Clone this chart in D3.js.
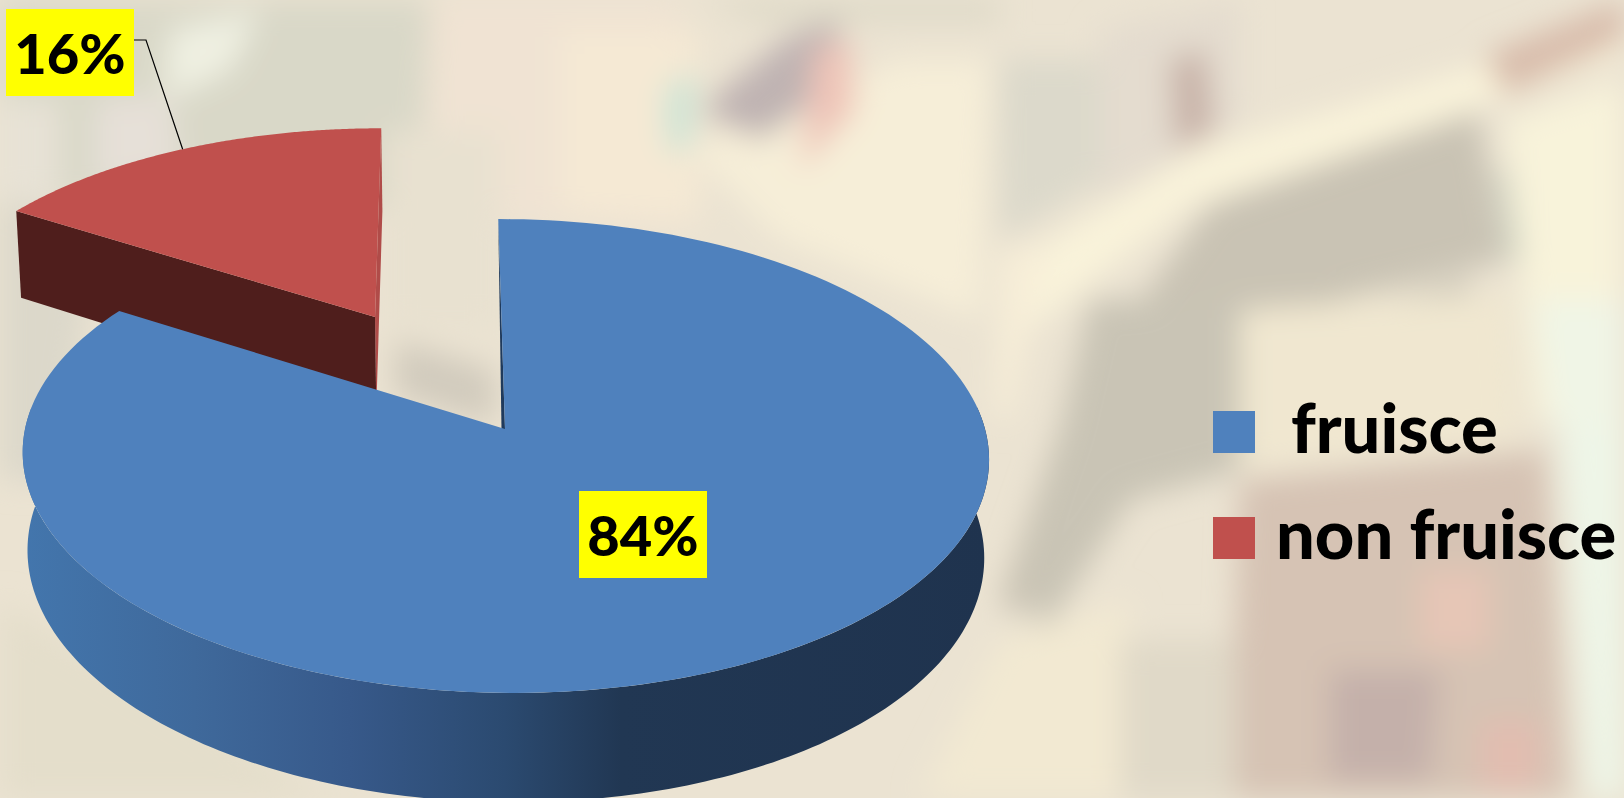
<!DOCTYPE html>
<html lang="en">
<head>
<meta charset="utf-8">
<title>fruisce / non fruisce</title>
<style>
  html, body { margin: 0; padding: 0; background: #ebe3d2; overflow: hidden; }
  svg { display: block; }
  text { font-family: Lato, "Open Sans", sans-serif; font-weight: 900; fill: #000; }
</style>
<script src="https://cdnjs.cloudflare.com/ajax/libs/d3/7.8.5/d3.min.js"></script>
</head>
<body>
<script>
// chart values
var categories = ["fruisce", "non fruisce"];
var shares = [84, 16];
var shareLabels = ["84%", "16%"];

var w = 1624, h = 798;
var svg = d3.select("body").append("svg").attr("width", w).attr("height", h);
var defs = svg.append("defs");

// washed out painting behind the chart, only soft patches
var patches = [
  ["#d9d8c8", "0,0 430,0 420,210 0,200"],
  ["#e7e2d6", "0,100 60,100 60,200 0,200"],
  ["#e6e0d8", "95,100 170,95 180,170 95,190"],
  ["#eff0e2", "170,30 260,10 230,70 165,100"],
  ["#dcd8ca", "0,200 100,220 60,480 0,480"],
  ["#f0e3d3", "430,0 680,0 690,230 430,215"],
  ["#e8e1d0", "385,130 500,130 500,330 385,330"],
  ["#d1cbbd", "395,340 495,370 495,425 395,395"],
  ["#f6eed8", "690,150 900,60 990,60 980,320 780,240"],
  ["#f5e9d4", "560,30 700,30 700,220 560,210"],
  ["#bfb3b2", "700,110 790,35 840,20 830,90 760,140"],
  ["#efc4b8", "815,50 850,40 855,110 800,170"],
  ["#c8e4d6", "665,90 695,70 690,150 668,150"],
  ["#dcd8c6", "700,0 1000,0 1000,20 760,20"],
  ["#e4dccf", "1100,30 1240,0 1240,120 1100,200"],
  ["#c8b2a8", "1170,60 1205,50 1215,130 1175,150"],
  ["#dcd9cb", "1000,60 1100,60 1100,180 1000,240"],
  ["#f9f3da", "1000,270 1200,150 1500,60 1624,10 1624,55 1470,108 1190,205 1030,330"],
  ["#d8bcab", "1485,55 1624,0 1624,40 1505,95"],
  ["#c9c3b4", "1210,205 1478,112 1505,260 1340,300 1220,380 1100,480 1020,620 1000,600 1070,400"],
  ["#c9c4b5", "1090,300 1250,300 1240,470 1130,500 1040,640 1030,560"],
  ["#bdb9ad", "1380,300 1470,280 1470,350 1380,350"],
  ["#f8f3da", "1505,120 1624,80 1624,420 1535,420"],
  ["#b5c3b5", "1498,170 1506,170 1520,260 1510,260"],
  ["#f0e7d0", "1240,310 1510,290 1520,440 1240,470"],
  ["#eef6e8", "1560,420 1624,420 1624,798 1590,798"],
  ["#f0f5e6", "1535,300 1624,300 1624,430 1555,430"],
  ["#d6c3b4", "1240,480 1545,450 1570,798 1230,798"],
  ["#c4b0aa", "1330,670 1440,670 1430,780 1330,780"],
  ["#e6c6b6", "1420,570 1490,570 1490,650 1420,650"],
  ["#e2bdb0", "1480,720 1540,720 1540,790 1480,790"],
  ["#f2e9d2", "1000,640 1130,600 1120,798 920,798"],
  ["#e0d9c8", "1120,640 1235,640 1235,798 1120,798"],
  ["#f7eed8", "1000,250 1050,240 1010,420 995,420"],
  ["#e4decb", "0,600 320,790 560,798 0,798"]
];
defs.append("filter").attr("id", "soft").attr("x", "-20%").attr("y", "-20%").attr("width", "140%").attr("height", "140%")
  .append("feGaussianBlur").attr("stdDeviation", 15);
svg.append("g").attr("filter", "url(#soft)")
  .selectAll("polygon").data(patches).enter().append("polygon")
  .attr("fill", function(d) { return d[0]; })
  .attr("points", function(d) { return d[1]; });

// perspective of the plate, unit circle -> screen
var apexX = 505, apexY = 429, radiusX = 480, skewX = -50, radiusY = 185, persp = -0.1139;
var depth = 97, shrink = 0.99, explode = 0.578;

function project(u, v, low) {
  var q = 1 + persp * v;
  return [
    (apexX + radiusX * (low ? shrink : 1) * u + skewX * v) / q,
    (apexY + (low ? depth : 0) + radiusY * v) / q
  ];
}

var arcs = d3.pie().sort(null).startAngle(0).endAngle(2 * Math.PI)(shares);

function rim(d, low, off, a0, a1) {
  var n = 180, pts = [];
  a0 = a0 === undefined ? d.startAngle : a0;
  a1 = a1 === undefined ? d.endAngle : a1;
  for (var i = 0; i <= n; i++) {
    var a = a0 + (a1 - a0) * i / n;
    pts.push(project(off[0] + Math.sin(a), off[1] - Math.cos(a), low));
  }
  return pts;
}
var path = d3.line();

function offsetOf(d, amount) {
  var mid = (d.startAngle + d.endAngle) / 2;
  return [Math.sin(mid) * amount, -Math.cos(mid) * amount];
}

var blue = arcs[0], red = arcs[1];
var redOff = offsetOf(red, explode);

var grad = defs.append("linearGradient").attr("id", "sideBlue")
  .attr("gradientUnits", "userSpaceOnUse")
  .attr("x1", 20).attr("x2", 990).attr("y1", 0).attr("y2", 0);
[[0, "#4376ad"], [0.18, "#3f699b"], [0.34, "#37598a"], [0.5, "#2b4a70"], [0.62, "#213753"], [1, "#1f334e"]]
  .forEach(function(s) { grad.append("stop").attr("offset", s[0]).attr("stop-color", s[1]); });

var chart = svg.append("g");

// red slice, pulled out
var redRimTop = rim(red, false, redOff), redRimLow = rim(red, true, redOff);
var redCenterTop = project(redOff[0], redOff[1], false), redCenterLow = project(redOff[0], redOff[1], true);

chart.append("path") // wall on the 12 o'clock side
  .attr("d", path([redRimTop[redRimTop.length - 1], redCenterTop, redCenterLow, redRimLow[redRimLow.length - 1]]) + "Z")
  .attr("fill", "#b04c49");
chart.append("path") // front wall
  .attr("d", path([redRimTop[0], redCenterTop, redCenterLow, redRimLow[0]]) + "Z")
  .attr("fill", "#4f1e1c");
chart.append("path")
  .attr("d", path(redRimTop.concat([redCenterTop])) + "Z")
  .attr("fill", "#c0504d");

// blue slice
var blueCenter = project(0, 0, false);
var blueRimTop = rim(blue, false, [0, 0]);
chart.append("path") // thin dark edge at the gap
  .attr("d", path([blueRimTop[0], blueCenter, [blueCenter[0] - 3.5, blueCenter[1]]]) + "Z")
  .attr("fill", "#1f3a5c");

// only the part of the rim that faces the viewer gets a side wall
var sideTop = rim(blue, false, [0, 0], Math.PI * 0.47, Math.PI * 1.53);
var sideLow = rim(blue, true, [0, 0], Math.PI * 0.47, Math.PI * 1.53);
chart.append("path")
  .attr("d", path(sideTop.concat(sideLow.reverse())) + "Z")
  .attr("fill", "url(#sideBlue)");
chart.append("path")
  .attr("d", path(blueRimTop.concat([blueCenter])) + "Z")
  .attr("fill", "#4f81bd");

// leader from the 16% label to the slice
var leaderAt = red.startAngle + (red.endAngle - red.startAngle) * 0.505;
var leaderEnd = project(redOff[0] + Math.sin(leaderAt), redOff[1] - Math.cos(leaderAt), false);
svg.append("path")
  .attr("d", path([[134, 40], [146, 40], leaderEnd]))
  .attr("fill", "none").attr("stroke", "#000").attr("stroke-width", 1.2);

// data labels
var labelPos = [[579, 491], [6, 9]];
var labelG = svg.selectAll("g.lbl").data(shareLabels).enter().append("g").attr("class", "lbl")
  .attr("transform", function(d, i) { return "translate(" + labelPos[i] + ")"; });
labelG.append("rect").attr("width", 128).attr("height", 87).attr("fill", "#ffff00");
labelG.append("text").attr("x", 64).attr("y", 65).attr("text-anchor", "middle")
  .style("font-size", "56px").text(function(d) { return d; });

// legend
var legendColor = d3.scaleOrdinal().domain(categories).range(["#4f81bd", "#c0504d"]);
var legendY = d3.scalePoint().domain(categories).range([432, 538]);
var legend = svg.selectAll("g.leg").data(categories).enter().append("g").attr("class", "leg")
  .attr("transform", function(d) { return "translate(1213," + legendY(d) + ")"; });
legend.append("rect").attr("y", -21).attr("width", 42).attr("height", 42)
  .attr("fill", function(d) { return legendColor(d); });
legend.append("text").attr("x", function(d, i) { return i === 0 ? 78 : 63; }).attr("y", 21)
  .style("font-size", "68.5px").text(function(d) { return d; });
</script>
</body>
</html>
